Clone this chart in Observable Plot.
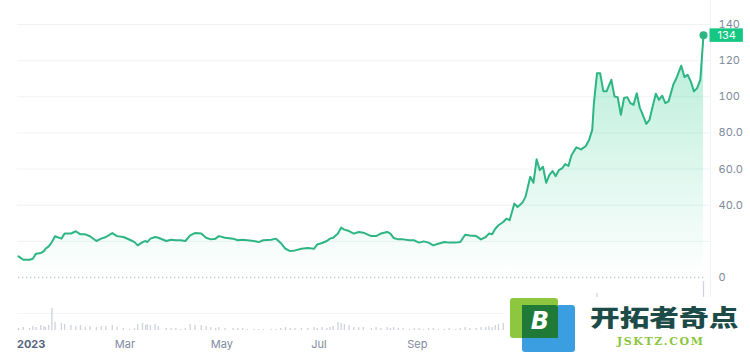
<!DOCTYPE html>
<html><head><meta charset="utf-8">
<script src="https://cdn.jsdelivr.net/npm/d3@7"></script>
<script src="https://cdn.jsdelivr.net/npm/@observablehq/plot@0.6"></script>
<style>
html,body{margin:0;padding:0;background:#fff;}
#wrap{position:relative;width:750px;height:355px;overflow:hidden;font-family:Inter,"Noto Sans",sans-serif;}
#price,#vol{position:absolute;left:0;}
#price{top:0;}
#vol{top:270px;}
#wm{position:absolute;left:505px;top:297px;width:245px;height:58px;background:#fff;}
#wm div{position:absolute;}
.blue{left:17px;top:8px;width:53px;height:47px;background:#3b9ee0;border-radius:3px;}
.green{left:5px;top:1px;width:48px;height:40px;background:#8dc63f;border-radius:3px;}
.dark{left:17px;top:8px;width:36px;height:33px;background:#1f7a37;border-radius:0 3px 0 0;color:#fff;font:italic 900 24px "DejaVu Sans",sans-serif;text-align:center;line-height:33px;}
.cjk{left:85px;top:8px;font:900 23px "Noto Sans CJK SC",sans-serif;color:#1d4b47;transform:scaleX(1.29);transform-origin:left top;line-height:23px;white-space:nowrap;}
.dom{left:112px;top:38px;font:bold 11px "DejaVu Serif",serif;color:#8cc63f;letter-spacing:1.6px;white-space:nowrap;}
</style></head><body>
<div id="wrap"><div id="price"></div><div id="vol"></div>
<div id="wm"><div class="blue"></div><div class="green"></div><div class="dark">B</div><div class="cjk">开拓者奇点</div><div class="dom">JSKTZ.COM</div></div>
</div>
<script>
const dates = [
"2022-12-24","2022-12-27","2022-12-31","2023-01-02","2023-01-04","2023-01-07","2023-01-09","2023-01-10","2023-01-12","2023-01-14",
"2023-01-16","2023-01-20","2023-01-22","2023-01-26","2023-01-29","2023-02-01","2023-02-04","2023-02-07","2023-02-11","2023-02-14",
"2023-02-17","2023-02-21","2023-02-24","2023-02-28","2023-03-04","2023-03-07","2023-03-09","2023-03-12","2023-03-14","2023-03-15",
"2023-03-17","2023-03-20","2023-03-22","2023-03-27","2023-03-30","2023-04-02","2023-04-05","2023-04-08","2023-04-11","2023-04-14",
"2023-04-18","2023-04-21","2023-04-24","2023-04-27","2023-04-29","2023-05-03","2023-05-08","2023-05-11","2023-05-14","2023-05-17",
"2023-05-21","2023-05-24","2023-05-27","2023-06-01","2023-06-04","2023-06-07","2023-06-10","2023-06-13","2023-06-16","2023-06-20",
"2023-06-24","2023-06-28","2023-06-30","2023-07-03","2023-07-06","2023-07-08","2023-07-10","2023-07-13","2023-07-15","2023-07-17",
"2023-07-20","2023-07-23","2023-07-26","2023-07-29","2023-08-03","2023-08-06","2023-08-09","2023-08-13","2023-08-15","2023-08-17",
"2023-08-20","2023-08-23","2023-08-27","2023-08-30","2023-09-02","2023-09-05","2023-09-08","2023-09-11","2023-09-14","2023-09-18",
"2023-09-21","2023-09-25","2023-09-28","2023-10-01","2023-10-04","2023-10-08","2023-10-11","2023-10-14","2023-10-16","2023-10-18",
"2023-10-20","2023-10-22","2023-10-25","2023-10-27","2023-10-29","2023-11-01","2023-11-03","2023-11-06","2023-11-08","2023-11-11",
"2023-11-13","2023-11-15","2023-11-17","2023-11-19","2023-11-21","2023-11-23","2023-11-25","2023-11-27","2023-11-29","2023-12-01",
"2023-12-03","2023-12-05","2023-12-07","2023-12-10","2023-12-13","2023-12-16","2023-12-18","2023-12-20","2023-12-21","2023-12-23",
"2023-12-25","2023-12-27","2023-12-29","2024-01-01","2024-01-03","2024-01-05","2024-01-07","2024-01-09","2024-01-11","2024-01-13",
"2024-01-15","2024-01-17","2024-01-19","2024-01-20","2024-01-23","2024-01-25","2024-01-27","2024-01-29","2024-01-31","2024-02-02",
"2024-02-04","2024-02-06","2024-02-09","2024-02-11","2024-02-14","2024-02-16","2024-02-18","2024-02-20","2024-02-22","2024-02-24",
"2024-02-26","2024-02-28"];
const prices = [
11.7,9.8,9.8,10.4,13.2,13.5,14.6,15.9,17.2,19.6,
22.8,21.5,24.3,24.3,25.6,23.9,23.9,22.8,20.2,21.5,
22.4,24.6,22.9,22.4,20.9,19.6,17.8,19.6,20.2,19.6,
21.5,22.4,22.0,20.2,20.9,20.6,20.6,20.2,23.3,24.6,
24.3,22.0,21.1,21.5,22.9,22.0,21.5,20.6,20.9,20.6,
20.2,19.6,20.6,20.9,21.5,19.1,15.9,14.6,15.0,15.9,
16.3,15.9,18.3,19.1,20.2,21.5,22.0,24.3,27.6,26.5,
25.7,24.3,25.2,24.8,22.9,22.9,24.3,25.2,24.3,21.9,
21.1,21.1,20.6,20.6,19.3,20.0,19.3,17.8,18.7,19.6,
19.3,19.3,19.6,23.7,23.3,22.9,21.1,22.4,24.3,23.9,
27.0,28.9,30.7,32.6,31.7,40.9,39.0,41.3,44.6,55.7,
52.4,65.4,59.4,61.3,52.4,56.7,58.9,56.1,59.4,60.4,
62.8,61.7,67.8,72.0,70.9,72.8,76.1,81.7,96.0,113.0,
113.0,103.0,103.0,109.4,100.2,99.8,90.0,99.3,99.8,96.5,
95.6,102.0,93.7,91.8,85.0,87.2,94.6,101.7,98.3,100.6,
96.5,97.4,106.7,110.4,117.2,110.9,112.2,108.5,103.0,104.8,
109.4,134.0];
const volumes = [
0.2,0.3,0.2,0.4,0.3,0.5,0.4,0.3,0.5,2.2,
0.8,0.7,0.6,0.5,0.4,0.5,0.3,0.4,0.3,0.4,
0.4,0.5,0.3,0.2,0.1,0.2,0.6,0.7,0.5,0.6,
0.5,0.6,0.4,0.2,0.2,0.2,0.1,0.2,0.6,0.5,
0.5,0.4,0.3,0.2,0.3,0.2,0.2,0.2,0.2,0.1,
0.1,0.1,0.1,0.1,0.1,0.2,0.3,0.2,0.2,0.2,
0.2,0.3,0.2,0.3,0.2,0.3,0.4,0.8,0.7,0.6,
0.5,0.3,0.3,0.3,0.2,0.3,0.2,0.3,0.2,0.3,
0.2,0.2,0.1,0.2,0.2,0.1,0.2,0.2,0.1,0.1,
0.2,0.1,0.2,0.3,0.2,0.2,0.3,0.3,0.4,0.3,
0.5,0.6,0.7,0.5,1.0,1.5,1.2,1.3,1.6,2.2,
1.8,2.4,1.9,1.4,1.8,1.3,1.0,1.1,1.2,1.1,
1.3,1.5,1.6,1.7,1.5,1.4,1.6,2.5,3.0,3.7,
2.4,2.3,1.9,1.6,2.2,1.6,1.4,1.9,1.6,1.2,
1.0,1.2,1.1,0.9,1.7,1.0,0.8,0.9,0.9,0.8,
0.6,0.8,1.2,1.0,1.4,1.1,0.9,1.0,0.9,0.7,
1.1,4.9];
const yTicks = [0,40,60,80,100,120,140];
const yTickLabels = ["0","40.0","60.0","80.0","100","120","140"];
const yGrid = [20,40,60,80,100,120,140];
const volGrid = [1.7];
const xTicks = ["2023-01-01","2023-03-01","2023-05-01","2023-07-01","2023-09-01"];
const xTickLabels = ["2023","Mar","May","Jul","Sep"];

const GREEN = "#16c784";
const LINE = "#2db583";
const n = Math.min(dates.length, prices.length, volumes.length);
const rows = d3.range(n).map(i => ({date: new Date(dates[i]), price: prices[i], vol: volumes[i]}));
const last = rows[rows.length - 1];
const xDomain = [rows[0].date, last.date];
const tickRows = xTicks.map((d, i) => ({date: new Date(d), label: xTickLabels[i]}));
const style = {fontFamily: "Inter, 'Noto Sans', sans-serif", fontSize: "11px", background: "transparent", overflow: "visible"};

const price = Plot.plot({
  width: 750, height: 282,
  marginTop: 24, marginBottom: 5, marginLeft: 18, marginRight: 47,
  style,
  x: {type: "utc", domain: xDomain, axis: null},
  y: {domain: [0, 140], axis: null},
  marks: [
    Plot.ruleY(yGrid, {stroke: "#eff2f5", insetLeft: -1, insetRight: -7}),
    Plot.ruleX([last], {x: "date", dx: 7, stroke: "#eff2f5", insetTop: -24}),
    Plot.areaY(rows, {x: "date", y: "price", fill: "url(#pgrad)"}),
    Plot.ruleY([0], {stroke: "#c3c9d3", strokeWidth: 1.3, strokeDasharray: "1.3 2.7", insetRight: -2}),
    Plot.lineY(rows, {x: "date", y: "price", stroke: LINE, strokeWidth: 2}),
    Plot.axisY(yTicks, {anchor: "right", label: null, tickSize: 0, tickPadding: 15, fill: "#808a9d", fontSize: 11,
      tickFormat: d => yTickLabels[yTicks.indexOf(d)]}),
    Plot.dot([last], {x: "date", y: "price", r: 4, fill: LINE}),
    Plot.text([last], {x: "date", y: "price", text: d => d3.format(".0f")(d.price), dx: 14, textAnchor: "start", fill: "white", fontSize: 11, className: "badge"})
  ]
});
document.getElementById("price").appendChild(price);

const svg = d3.select(price);
const defs = svg.insert("defs", ":first-child");
const g = defs.append("linearGradient").attr("id", "pgrad").attr("x1", 0).attr("y1", 0).attr("x2", 0).attr("y2", 1);
g.append("stop").attr("offset", "0%").attr("stop-color", GREEN).attr("stop-opacity", 0.32);
g.append("stop").attr("offset", "100%").attr("stop-color", GREEN).attr("stop-opacity", 0.0);

const bt = svg.select(".badge text").node();
if (bt) {
  const bb = bt.getBBox();
  d3.select(bt.parentNode).insert("rect", "text")
    .attr("transform", bt.getAttribute("transform"))
    .attr("x", bb.x - 8).attr("y", bb.y + 0.5).attr("width", bb.width + 15).attr("height", bb.height - 0.5)
    .attr("fill", GREEN);
}

const vol = Plot.plot({
  width: 750, height: 85,
  marginTop: 0, marginBottom: 25, marginLeft: 18, marginRight: 47,
  style,
  x: {type: "utc", domain: xDomain, axis: null},
  y: {domain: [0, 6], axis: null},
  marks: [
    Plot.ruleY(volGrid, {stroke: "#f2f4f7", insetLeft: -1, insetRight: -7}),
    Plot.ruleX([last], {x: "date", dx: 7, stroke: "#eff2f5"}),
    Plot.ruleX(rows, {x: "date", y1: 0, y2: "vol", stroke: "#cdd2dc", strokeWidth: 1.3}),
    Plot.text(tickRows, {filter: (d, i) => i === 0, x: "date", text: "label", frameAnchor: "bottom", dy: 14, lineAnchor: "middle", fill: "#58667e", fontWeight: "bold", fontSize: 11}),
    Plot.text(tickRows, {filter: (d, i) => i > 0, x: "date", text: "label", frameAnchor: "bottom", dy: 14, lineAnchor: "middle", fill: "#808a9d", fontSize: 11})
  ]
});
document.getElementById("vol").appendChild(vol);
</script>
</body></html>
